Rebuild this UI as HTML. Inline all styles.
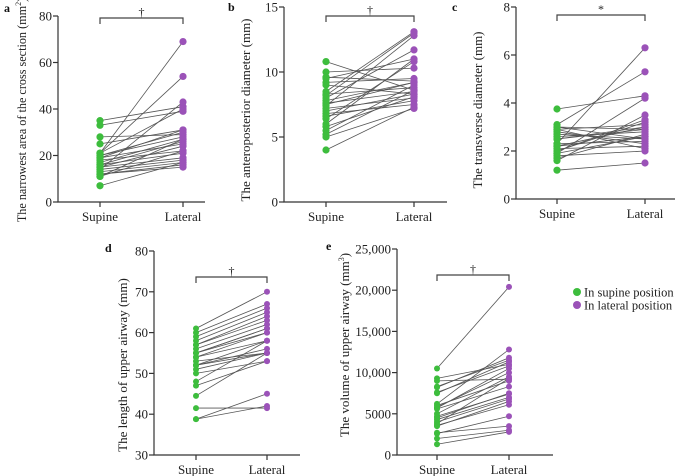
<!DOCTYPE html>
<html><head><meta charset="utf-8"><style>
body{margin:0;background:#fff;}
svg{display:block;font-family:"Liberation Serif",serif;}
</style></head><body>
<svg id="c" width="676" height="476" xmlns="http://www.w3.org/2000/svg"></svg>
<script>
const categories = ["Supine","Lateral"];
const aSupine = [35,33,28,25,21,21,20,20,19,18,17,16,16,15,15,14,14,13,12,12,11,11,21,19,7];
const aLateral = [41,39,29,31,69,54,28,30,25,22,27,21,26,24,19,18,43,17,16,15,22,27,40,31,17];
const aTicks = [0,20,40,60,80];
const bSupine = [10.8,10,9.5,9.2,9,8.5,8.3,8,7.8,7.6,7.4,7.2,7,6.8,6.4,6,5.8,5.5,5,4,8.2,7.5,9.6,5.2,6.6];
const bLateral = [8.6,10.3,11,9.5,8.3,13.1,8.8,11.7,9.2,8.5,12.8,8,8.3,7.5,10.8,11,8.1,9,7.2,7.3,13,9.2,9.3,8.6,7.8];
const bTicks = [0,5,10,15];
const cSupine = [3.75,3.1,3.0,2.9,2.8,2.7,2.6,2.5,2.3,2.2,2.1,2.0,1.9,1.8,1.7,1.6,1.2,2.3,2.9,2.0,2.5,3.0,1.9,2.2];
const cLateral = [4.3,5.3,2.9,3.1,2.3,2.5,2.8,3.0,6.3,2.6,2.2,3.3,4.2,2.0,2.7,3.5,1.5,2.4,2.1,3.2,2.9,2.5,2.6,3.0];
const cTicks = [0,2,4,6,8];
const dSupine = [61,60,59,58,57,56,55,55,54,54,53,52,52,51,50,48,47,44.5,41.5,38.8,38.8,57,55,52];
const dLateral = [70,67,66,65,64,62,61,60,60,58,55,55,56,55,53,58,53,55,41.5,42,45,63,61,58];
const dTicks = [30,40,50,60,70,80];
const eSupine = [10500,9300,9000,8200,7500,6200,5800,5600,5000,4700,4300,4000,3800,3600,2700,2600,2000,1300,8300,5700,3500,4500,7600,6000];
const eLateral = [20400,11000,9200,11800,11300,12800,10000,8300,9500,7400,7000,6800,9300,6100,3500,4700,3000,2800,11500,10500,6500,7500,10800,9000];
const eTicks = [0,5000,10000,15000,20000,25000];
const eTickLabels = ["0","5000","10,000","15,000","20,000","25,000"];

const NS="http://www.w3.org/2000/svg";
const svg=document.getElementById('c');
const GREEN="#3dbd3d", PURPLE="#9b52b8";
function mk(tag,attrs,parent){const e=document.createElementNS(NS,tag);for(const k in attrs)e.setAttribute(k,attrs[k]);(parent||svg).appendChild(e);return e;}
function txt(s,attrs,parent){const t=mk('text',attrs,parent);t.textContent=s;return t;}

function panel(p){
  const g=mk('g',{});
  
  
  const y=v=>p.y0+(v-p.min)/(p.max-p.min)*(p.y1-p.y0);
  const xs=[p.xs,p.xl];
  const ax=mk('path',{d:`M${p.ax},${y(p.max)}V${p.y0}H${p.axEnd}`,stroke:'#333','stroke-width':1.2,fill:'none'},g);
  
  
  p.ticks.forEach((t,i)=>{
    mk('line',{x1:p.ax-5,x2:p.ax,y1:y(t),y2:y(t),stroke:'#333','stroke-width':1.2},g);
    const l=txt(p.labels?p.labels[i]:String(t),{x:p.ax-6,y:y(t)+4.5,'text-anchor':'end','font-size':13,fill:'#222'},g);
    
    
  });
  categories.forEach((c,i)=>{
    mk('line',{x1:xs[i],x2:xs[i],y1:p.y0,y2:p.y0+5,stroke:'#333','stroke-width':1.2},g);
    const l=txt(c,{x:xs[i],y:p.y0+19,'text-anchor':'middle','font-size':13,fill:'#222'},g);
    
    
  });
  p.s.forEach((v,i)=>{
    const ln=mk('line',{x1:p.xs,y1:y(v),x2:p.xl,y2:y(p.l[i]),stroke:'#555','stroke-width':0.8},g);
    
    
  });
  p.s.forEach(v=>{const c=mk('circle',{cx:p.xs,cy:y(v),r:p.r,fill:GREEN},g);
    
    });
  p.l.forEach(v=>{const c=mk('circle',{cx:p.xl,cy:y(v),r:p.r,fill:PURPLE},g);
    
    });
  const br=mk('path',{d:`M${p.xs},${p.by+6}V${p.by}H${p.xl}V${p.by+6}`,stroke:'#444','stroke-width':1.2,fill:'none'},g);
  
  
  const sg=txt(p.sig,{x:(p.xs+p.xl)/2,y:p.by-2,'text-anchor':'middle','font-size':12,fill:'#222'},g);
  
  
  const yt=txt('',{transform:`translate(${p.tx},${p.ty}) rotate(-90)`,'text-anchor':'middle','font-size':p.tfs||13,fill:'#222'},g);
  yt.innerHTML=p.title;
  
  
  const lt=txt(p.id,{x:p.lx,y:p.ly,'font-size':12,'font-weight':'bold',fill:'#111'},g);
  
  
}

panel({id:'a',s:aSupine,l:aLateral,ticks:aTicks,min:0,max:80,y0:202,y1:16,ax:58,axEnd:205,xs:100,xl:183,r:3.6,by:18,sig:'†',tx:26,ty:110,lx:4,ly:12,tfs:12.2,
  title:'The narrowest area of the cross section (mm<tspan dy="-5" font-size="8">2</tspan><tspan dy="5">)</tspan>'});
panel({id:'b',s:bSupine,l:bLateral,ticks:bTicks,min:0,max:15,y0:202,y1:7,ax:284,axEnd:447,xs:326,xl:414,r:3.6,by:16,sig:'†',tx:250,ty:110,lx:228,ly:11,
  title:'The anteroposterior diameter (mm)'});
panel({id:'c',s:cSupine,l:cLateral,ticks:cTicks,min:0,max:8,y0:199,y1:7,ax:516,axEnd:675,xs:557,xl:645,r:3.6,by:15,sig:'*',tx:482,ty:110,lx:452,ly:11,
  title:'The transverse diameter (mm)'});
panel({id:'d',s:dSupine,l:dLateral,ticks:dTicks,min:30,max:80,y0:455,y1:251,ax:154,axEnd:300,xs:196,xl:267,r:3,by:277,sig:'†',tx:127,ty:365,lx:105,ly:252,
  title:'The length of upper airway (mm)'});
panel({id:'e',s:eSupine,l:eLateral,ticks:eTicks,labels:eTickLabels,min:0,max:25000,y0:455,y1:249,ax:397,axEnd:553,xs:437,xl:509,r:3,by:275,sig:'†',tx:349,ty:345,lx:326,ly:250,
  title:'The volume of upper airway (mm<tspan dy="-5" font-size="8">3</tspan><tspan dy="5">)</tspan>'});

const lg=mk('g',{});


[["In supine position",GREEN,292],["In lateral position",PURPLE,305]].forEach(([t,c,yy])=>{
  const e=mk('g',{},lg);
  
  
  mk('circle',{cx:577,cy:yy,r:4,fill:c},e);
  txt(t,{x:584,y:yy+4.5,'font-size':12.5,fill:'#222'},e);
});
</script>
</body></html>
